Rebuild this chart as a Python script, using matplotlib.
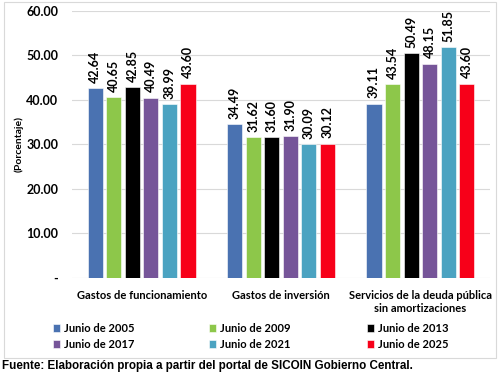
import matplotlib
matplotlib.use('Agg')
import matplotlib.pyplot as plt
from matplotlib.patches import Rectangle
import numpy as np

categories = ['Gastos de funcionamiento', 'Gastos de inversión',
              'Servicios de la deuda pública\nsin amortizaciones']
series = ['Junio de 2005', 'Junio de 2009', 'Junio de 2013',
          'Junio de 2017', 'Junio de 2021', 'Junio de 2025']
values = [
    [42.64, 34.49, 39.11],
    [40.65, 31.62, 43.54],
    [42.85, 31.60, 50.49],
    [40.49, 31.90, 48.15],
    [38.99, 30.09, 51.85],
    [43.60, 30.12, 43.60],
]
colors = ['#4A72B1', '#8DC74A', '#000000', '#765599', '#4BA3C1', '#F70019']
yticks = [0, 10, 20, 30, 40, 50, 60]
ytick_labels = ['-', '10.00', '20.00', '30.00', '40.00', '50.00', '60.00']

plt.rcParams['font.family'] = ['Lato', 'DejaVu Sans']

fig = plt.figure(figsize=(5, 3.74), dpi=100)
ax = fig.add_axes([0.144, 0.257, 0.836, 0.714])

x = np.arange(len(categories))
step = 0.133
width = 0.108
bars = []
for i, (name, vals) in enumerate(zip(series, values)):
    pos = x + (i - 2.5) * step
    b = ax.bar(pos, vals, width, color=colors[i], label=name, zorder=3,
               edgecolor='white', linewidth=0.4)
    bars.append(b)
    for p, v in zip(pos, vals):
        ax.text(p, v + 1.2, f'{v:.2f}', rotation=90, ha='center', va='bottom',
                fontsize=9, fontweight='bold')

ax.set_xlim(-0.5, 2.5)
ax.set_ylim(0, 60)
ax.set_yticks(yticks)
ax.set_yticklabels(ytick_labels, fontsize=9, fontweight='bold')
ax.set_xticks(x)
ax.set_xticklabels(categories, fontsize=8, fontweight='bold')
ax.tick_params(length=0, pad=9)
ax.tick_params(axis='y', pad=10)
ax.grid(axis='y', color='#D9D9D9', linewidth=0.8, zorder=0)
for s in ax.spines.values():
    s.set_visible(False)
ax.set_ylabel('(Porcentaje)', fontsize=7.5, fontweight='bold')
ax.yaxis.set_label_coords(-0.115, 0.5)

# legend laid out row by row: one small legend per column
col_x = [0.105, 0.417, 0.733]
for c in range(3):
    idx = [c, c + 3]
    fig.legend([bars[k] for k in idx], [series[k] for k in idx],
               loc='upper left', bbox_to_anchor=(col_x[c], 0.137), frameon=False,
               prop={'size': 8, 'weight': 'bold'}, handlelength=0.7,
               handleheight=0.7, handletextpad=0.3, labelspacing=0.45,
               borderaxespad=0, borderpad=0)

fig.patches.append(Rectangle((4 / 500, 1 - 358 / 374), 492 / 500, 356 / 374,
                             transform=fig.transFigure, fill=False,
                             edgecolor='#D9D9D9', linewidth=0.8))
fig.text(0.004, 1 - 366 / 374,
         'Fuente: Elaboración propia a partir del portal de SICOIN Gobierno Central.',
         fontsize=8.4, fontweight='bold', family='Liberation Sans', va='center')

fig.savefig('out.png', dpi=100)
